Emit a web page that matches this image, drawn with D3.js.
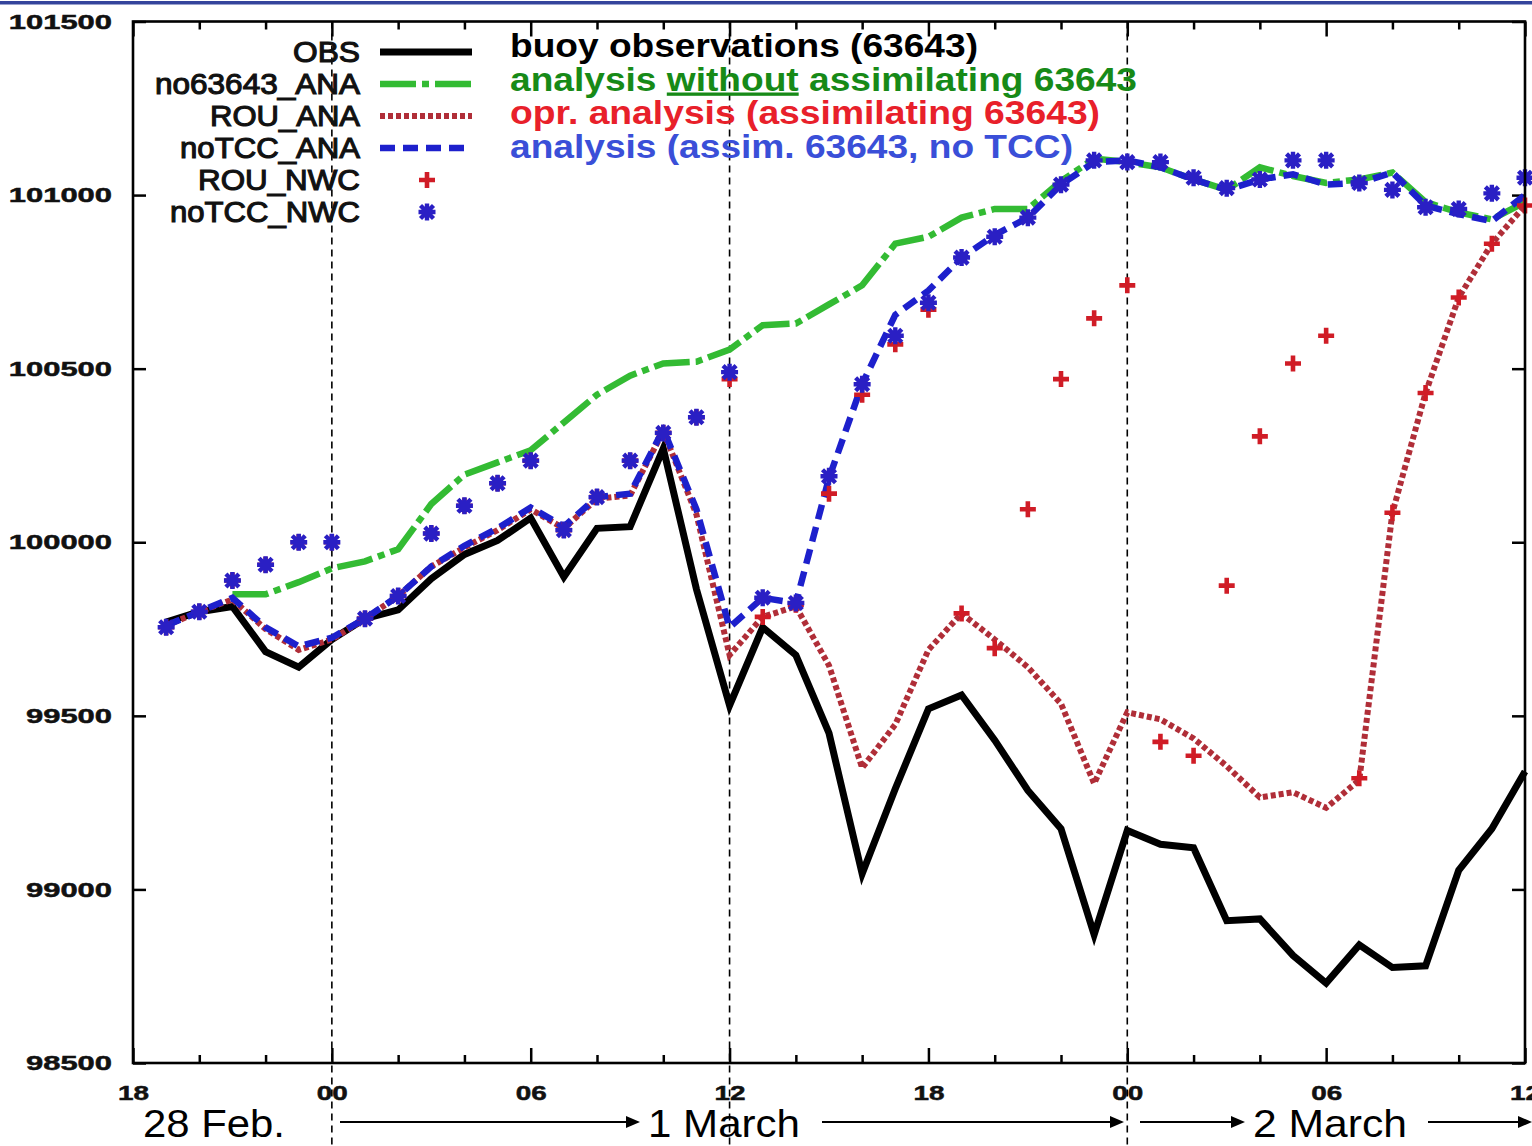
<!DOCTYPE html>
<html>
<head>
<meta charset="utf-8">
<script src="https://cdn.jsdelivr.net/npm/d3@7"></script>
<style>
  body { margin: 0; background: #fff; }
  svg { display: block; }
</style>
</head>
<body>
<script>
// hours after 18 UTC, 28 Feb.
const hours = [1, 2, 3, 4, 5, 6, 7, 8, 9, 10, 11, 12, 13, 14, 15, 16, 17, 18, 19, 20, 21,
  22, 23, 24, 25, 26, 27, 28, 29, 30, 31, 32, 33, 34, 35, 36, 37, 38, 39, 40, 41, 42];

const obs = [99770, 99800, 99815, 99685, 99640, 99720, 99780, 99805, 99895, 99965,
  100005, 100070, 99900, 100040, 100045, 100270, 99865, 99530, 99755, 99675,
  99450, 99045, 99290, 99520, 99560, 99430, 99285, 99175, 98870, 99170,
  99130, 99120, 98910, 98915, 98810, 98730, 98840, 98775, 98780, 99055,
  99175, 99340];

const no63643Ana = [null, null, 99850, 99850, 99885, 99925, 99945, 99980, 100110, 100195,
  100230, 100265, 100345, 100425, 100480, 100515, 100520, 100555, 100625, 100630,
  100685, 100740, 100860, 100880, 100935, 100960, 100960, 101040, 101105, 101095,
  101080, 101045, 101015, 101080, 101055, 101035, 101045, 101065, 100980, 100950,
  100930, 100980];

const rouAna = [99760, 99800, 99835, 99750, 99690, 99720, 99780, 99845, 99930, 99985,
  100035, 100095, 100040, 100125, 100135, 100320, 100080, 99675, 99785, 99815,
  99645, 99350, 99475, 99690, 99795, 99720, 99640, 99535, 99305, 99510,
  99490, 99435, 99355, 99265, 99280, 99235, 99315, 100085, 100430, 100705,
  100860, 100970];

const noTccAna = [99760, 99800, 99840, 99755, 99700, 99725, 99780, 99845, 99930, 99990,
  100040, 100100, 100045, 100130, 100140, 100325, 100095, 99755, 99840, 99825,
  100185, 100455, 100655, 100725, 100820, 100885, 100935, 101030, 101095, 101100,
  101080, 101045, 101015, 101045, 101060, 101030, 101035, 101065, 100970, 100945,
  100925, 101000];

const rouNwc = [99755, 99800, 99890, 99935, 100000, 100000, 99780, 99845, 100025, 100105,
  100170, 100235, 100035, 100130, 100235, 100315, 100360, 100470, 99785, 99820,
  100140, 100425, 100570, 100670, 99795, 99695, 100095, 100470, 100645, 100740,
  99425, 99385, 99875, 100305, 100515, 100595, 99320, 100085, 100430, 100705,
  100860, 100970];

const noTccNwc = [99755, 99800, 99890, 99935, 100000, 100000, 99780, 99845, 100025, 100105,
  100170, 100235, 100035, 100130, 100235, 100315, 100360, 100490, 99840, 99825,
  100190, 100455, 100595, 100690, 100820, 100880, 100935, 101030, 101100, 101095,
  101095, 101050, 101020, 101045, 101100, 101100, 101035, 101015, 100965, 100960,
  101005, 101050];

const yTicks = [98500, 99000, 99500, 100000, 100500, 101000, 101500];
const majorHours = [0, 6, 12, 18, 24, 30, 36, 42];
const hourLabels = ["18", "00", "06", "12", "18", "00", "06", "12"];
const dayHours = [6, 18, 30];

const legendNames = ["OBS", "no63643_ANA", "ROU_ANA", "noTCC_ANA", "ROU_NWC", "noTCC_NWC"];
const notes = [
  ["buoy observations (63643)"],
  ["analysis ", "without", " assimilating 63643"],
  ["opr. analysis (assimilating 63643)"],
  ["analysis (assim. 63643, no TCC)"]
];

const W = 1532, H = 1146;
const font = "'Liberation Sans', Arial, Helvetica, sans-serif";

const svg = d3.select("body").append("svg")
  .attr("width", W).attr("height", H)
  .style("font-family", font);

svg.append("rect").attr("x", 0).attr("y", 0).attr("width", W).attr("height", H).attr("fill", "#fff");
svg.append("rect").attr("x", 0).attr("y", 1).attr("width", W).attr("height", 3.5).attr("fill", "#34449c");

const x = d3.scaleLinear().domain([0, 42]).range([133, 1525]);
const y = d3.scaleLinear().domain([98500, 101500]).range([1063, 21.5]);

function styleAxis(g) {
  g.select(".domain").remove();
  g.selectAll(".tick line").attr("stroke", "#000").attr("stroke-width", 2.5);
}

// ticks
const minorHours = d3.range(0, 43, 2).filter(h => h % 6 !== 0);

const gBottom = svg.append("g").attr("transform", `translate(0,${y(98500)})`)
  .call(d3.axisBottom(x).tickValues(majorHours).tickSize(-15).tickFormat((d, i) => hourLabels[i]));
styleAxis(gBottom);
gBottom.selectAll(".tick text")
  .attr("y", 30).attr("dy", "0.35em")
  .attr("fill", "#111")
  .style("font-size", "21px").style("font-weight", "bold")
  .attr("stroke", "#111").attr("stroke-width", 0.5)
  .attr("textLength", 31).attr("lengthAdjust", "spacingAndGlyphs");

svg.append("g").attr("transform", `translate(0,${y(98500)})`)
  .call(d3.axisBottom(x).tickValues(minorHours).tickSize(-8).tickFormat(""))
  .call(styleAxis);

svg.append("g").attr("transform", `translate(0,${y(101500)})`)
  .call(d3.axisTop(x).tickValues(majorHours).tickSize(-15).tickFormat(""))
  .call(styleAxis);
svg.append("g").attr("transform", `translate(0,${y(101500)})`)
  .call(d3.axisTop(x).tickValues(minorHours).tickSize(-8).tickFormat(""))
  .call(styleAxis);

const gLeft = svg.append("g").attr("transform", `translate(${x(0)},0)`)
  .call(d3.axisLeft(y).tickValues(yTicks).tickSize(-13).tickPadding(21).tickFormat(d3.format("d")));
styleAxis(gLeft);
gLeft.selectAll(".tick text")
  .attr("fill", "#111")
  .style("font-size", "21px").style("font-weight", "bold")
  .attr("stroke", "#111").attr("stroke-width", 0.5)
  .attr("textLength", d => String(d).length * 17.2)
  .attr("lengthAdjust", "spacingAndGlyphs");

svg.append("g").attr("transform", `translate(${x(42)},0)`)
  .call(d3.axisRight(y).tickValues(yTicks).tickSize(-13).tickFormat(""))
  .call(styleAxis);

// day separators
svg.append("g").selectAll("line").data(dayHours).join("line")
  .attr("x1", d => x(d)).attr("x2", d => x(d))
  .attr("y1", y(101500)).attr("y2", H)
  .attr("stroke", "#000").attr("stroke-width", 1.6)
  .attr("stroke-dasharray", "7,5");

// series
const styles = [
  { data: obs, color: "#000", width: 7, dash: null },
  { data: no63643Ana, color: "#33bb33", width: 6.5, dash: "36,6,7,6" },
  { data: rouAna, color: "#b02e38", width: 6, dash: "5,3" },
  { data: noTccAna, color: "#1d20cc", width: 6.5, dash: "15,8" }
];

const line = d3.line()
  .defined(d => d != null)
  .x((d, i) => x(hours[i]))
  .y(d => y(d));

svg.append("g").selectAll("path").data(styles).join("path")
  .attr("d", s => line(s.data))
  .attr("fill", "none")
  .attr("stroke", s => s.color)
  .attr("stroke-width", s => s.width)
  .attr("stroke-linejoin", "miter")
  .attr("stroke-dasharray", s => s.dash);

const plusPath = "M-8,0H8M0,-8V8";
const starPath = "M-8.5,0H8.5M0,-8.5V8.5M-6.5,-6.5L6.5,6.5M-6.5,6.5L6.5,-6.5";

svg.append("g").selectAll("path").data(rouNwc).join("path")
  .attr("transform", (d, i) => `translate(${x(hours[i])},${y(d)})`)
  .attr("d", plusPath)
  .attr("stroke", "#d01c26").attr("stroke-width", 4.6).attr("fill", "none");

svg.append("g").selectAll("path").data(noTccNwc).join("path")
  .attr("transform", (d, i) => `translate(${x(hours[i])},${y(d)})`)
  .attr("d", starPath)
  .attr("stroke", "#2a1fc4").attr("stroke-width", 4.4).attr("fill", "none");

// frame
svg.append("rect")
  .attr("x", x(0)).attr("y", y(101500))
  .attr("width", x(42) - x(0)).attr("height", y(98500) - y(101500))
  .attr("fill", "none").attr("stroke", "#000").attr("stroke-width", 2.6);

// legend
const legendWidths = [67, 205, 150, 180, 162, 190];
const legendY = d => 52 + d * 32;
const lg = svg.append("g");
lg.selectAll("text").data(legendNames).join("text")
  .attr("x", 360).attr("y", (d, i) => legendY(i))
  .attr("dy", "0.36em")
  .attr("text-anchor", "end")
  .attr("fill", "#111")
  .style("font-size", "29px")
  .attr("textLength", (d, i) => legendWidths[i])
  .attr("lengthAdjust", "spacingAndGlyphs")
  .attr("stroke", "#111").attr("stroke-width", 1.1)
  .text(d => d);

lg.selectAll("path.sample").data(styles).join("path")
  .attr("class", "sample")
  .attr("d", (s, i) => `M380,${legendY(i)}H472`)
  .attr("stroke", s => s.color)
  .attr("stroke-width", s => s.width)
  .attr("stroke-dasharray", s => s.dash)
  .attr("fill", "none");

lg.append("path").attr("transform", `translate(427,${legendY(4)})`)
  .attr("d", plusPath).attr("stroke", "#d01c26").attr("stroke-width", 4.6);
lg.append("path").attr("transform", `translate(427,${legendY(5)})`)
  .attr("d", starPath).attr("stroke", "#2a1fc4").attr("stroke-width", 4.4);

// annotations
const noteColors = ["#000", "#178a17", "#e8202a", "#3a4fd8"];
const noteWidths = [468, 627, 590, 563];
const nt = svg.append("g").style("font-size", "33px").style("font-weight", "bold");
notes.forEach((parts, i) => {
  const t = nt.append("text")
    .attr("x", 510).attr("y", 57 + i * 33.5)
    .attr("fill", noteColors[i])
    .attr("textLength", noteWidths[i])
    .attr("lengthAdjust", "spacingAndGlyphs");
  parts.forEach(p => {
    const ts = t.append("tspan").text(p);
    if (p === "without") ts.style("text-decoration", "underline");
  });
});

// dates and arrows
const dates = [
  { text: "28 Feb.", x: 143, w: 142 },
  { text: "1 March", x: 648, w: 152 },
  { text: "2 March", x: 1253, w: 154 }
];
svg.append("g").selectAll("text").data(dates).join("text")
  .attr("x", d => d.x).attr("y", 1137)
  .attr("fill", "#000")
  .style("font-size", "39px")
  .attr("textLength", d => d.w)
  .attr("lengthAdjust", "spacingAndGlyphs")
  .text(d => d.text);

const arrows = [[340, 640], [822, 1124], [1140, 1245], [1428, 1532]];
const ag = svg.append("g");
arrows.forEach(([a, b]) => {
  ag.append("line").attr("x1", a).attr("x2", b - 12).attr("y1", 1122).attr("y2", 1122)
    .attr("stroke", "#000").attr("stroke-width", 1.8);
  ag.append("path").attr("d", `M${b - 14},1116L${b},1122L${b - 14},1128Z`).attr("fill", "#000");
});
</script>
</body>
</html>
